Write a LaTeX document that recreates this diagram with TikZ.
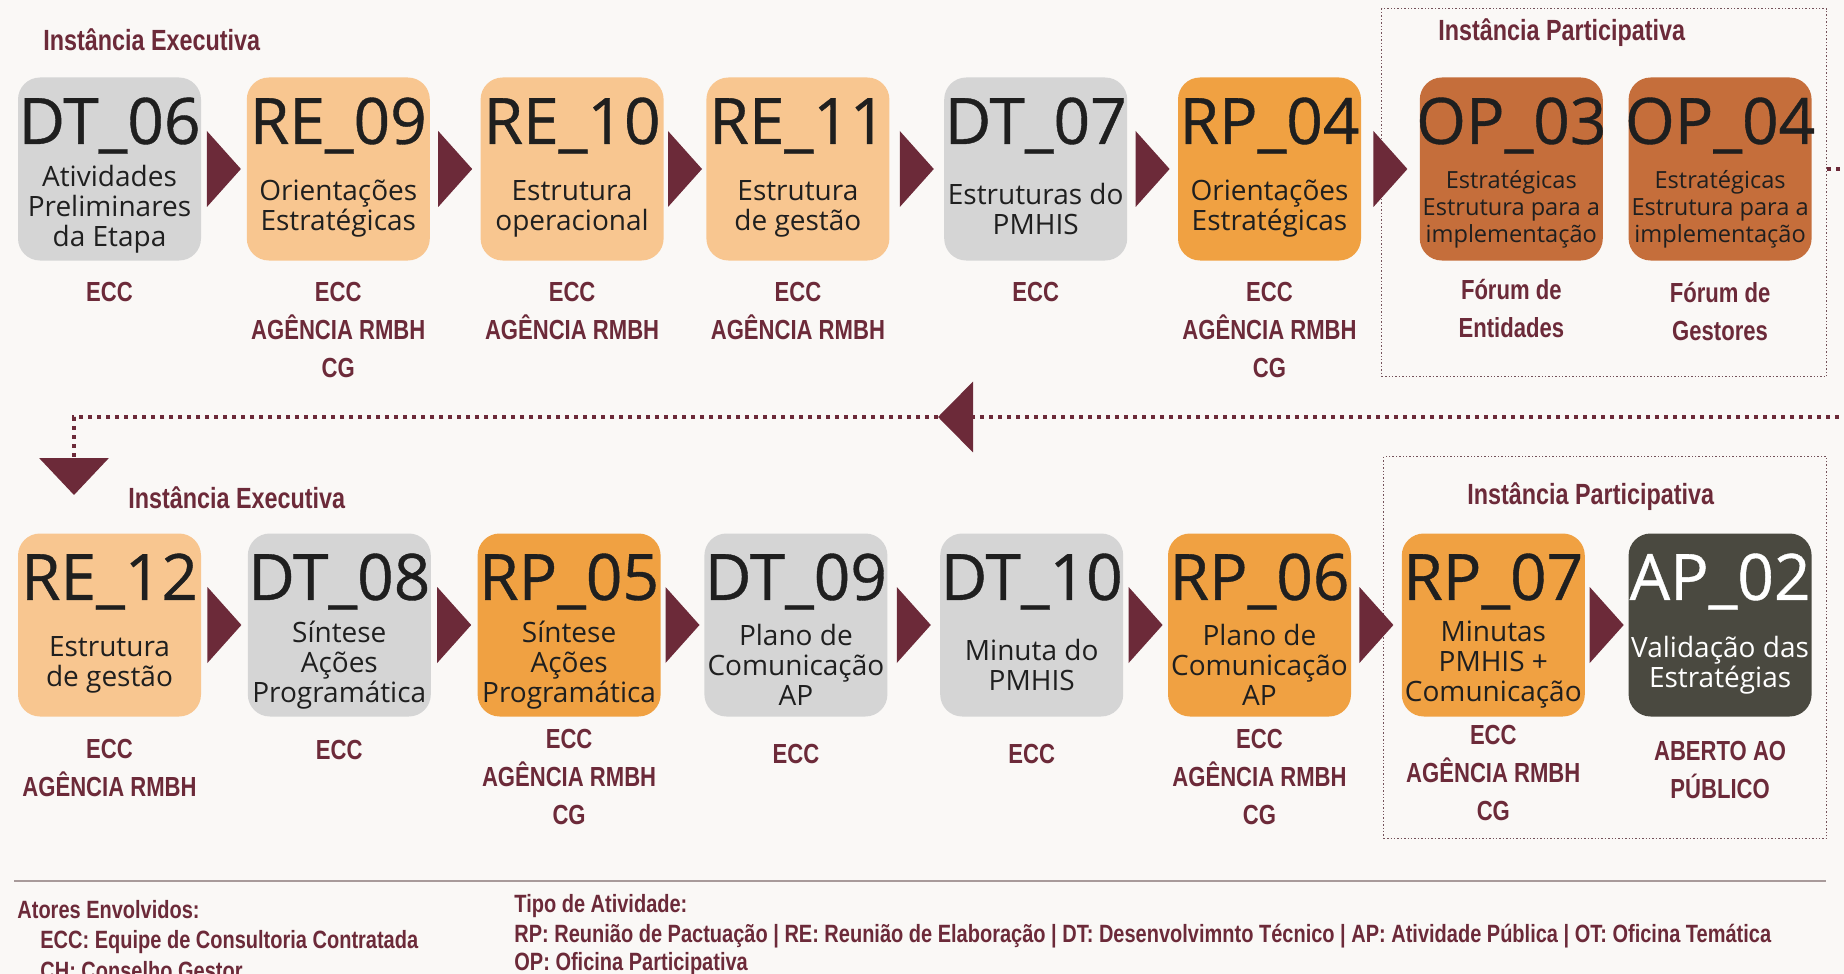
\documentclass[tikz,border=0pt]{standalone}
\usepackage{fontspec}
\usepackage{xcolor}
\usepackage{tikz}
\usetikzlibrary{arrows.meta,positioning,calc}
\newfontfamily\boxfont{Open Sans}
\newfontfamily\boxcodefont[FakeBold=0.6]{Open Sans}
\newfontfamily\capfont[FakeStretch=0.8]{Liberation Sans}
\definecolor{vinho}{HTML}{6C2A39}
\definecolor{paper}{HTML}{FAF8F6}
\definecolor{cinza}{HTML}{D5D5D5}
\definecolor{pessego}{HTML}{F8C690}
\definecolor{laranja}{HTML}{F0A142}
\definecolor{terra}{HTML}{C56E3B}
\definecolor{oliva}{HTML}{4A4940}
\definecolor{moldura}{HTML}{74525A}
\definecolor{regua}{HTML}{A89A9A}
\newcommand{\codesize}{\boxcodefont\fontsize{32}{32}\selectfont}
\newcommand{\subsize}{\boxfont\fontsize{14}{15}\selectfont}
\newcommand{\opsize}{\boxfont\fontsize{11.8}{13.6}\selectfont}
\newcommand{\stepbody}[3][\subsize]{%
  \vbox to 91.5pt{\hsize=91.5pt\parindent=0pt
    \vbox to 40pt{\vss\hbox to\hsize{\hss\codesize\smash{#2}\hss}\kern6.8pt}%
    \nointerlineskip
    \vbox to 51.5pt{\vss\centering#1 #3\par\vss}}}
\newcommand{\stepjoin}[2]{\fill[vinho] ($(#1.east)!0.5!(#2.west)$) ++(-8.5pt,19pt) -- ++(17pt,-19pt) -- ++(-17pt,-19pt) -- cycle;}

\begin{document}
\begin{tikzpicture}[
    stepbox/.style={rounded corners=11pt, inner sep=0pt, minimum width=91.5pt, minimum height=91.5pt, text=black!88},
    greybox/.style={stepbox, fill=cinza},
    peachbox/.style={stepbox, fill=pessego},
    orangebox/.style={stepbox, fill=laranja},
    brownbox/.style={stepbox, fill=terra},
    darkbox/.style={stepbox, fill=oliva, text=white},
    who/.style={font=\capfont\bfseries\fontsize{13.8}{19}\selectfont, text=vinho, align=center, inner sep=0pt},
    instancia/.style={font=\capfont\bfseries\fontsize{14.6}{17}\selectfont, text=vinho, inner sep=0pt, anchor=west},
    legend/.style={font=\capfont\bfseries\fontsize{12.5}{15}\selectfont, text=vinho, inner sep=0pt, anchor=west},
    partframe/.style={draw=moldura, line width=0.7pt, dash pattern=on 0.7pt off 1pt, inner sep=0pt, anchor=north west},
    loopline/.style={draw=vinho, line width=2pt, dash pattern=on 2pt off 2.5pt}
]
\useasboundingbox (0,0) rectangle (922pt,-487pt);
\fill[paper] (0,0) rectangle (922pt,-487pt);
\clip (0,0) rectangle (922pt,-487pt);

\node[partframe, minimum width=222.5pt, minimum height=184pt] (part1) at (690.5pt,-4pt) {};
\node[partframe, minimum width=221.5pt, minimum height=191pt] (part2) at (691.5pt,-228pt) {};
\node[instancia] (exec1) at (21.5pt,-20pt) {Instância Executiva};
\node[instancia] (part1title) at (719pt,-16.5pt) {Instância Participativa};
\node[instancia] (exec2) at (64pt,-249pt) {Instância Executiva};
\node[instancia] (part2title) at (733.5pt,-248.5pt) {Instância Participativa};

\node[greybox] (dt06) at (54.75pt,-84.5pt) {\stepbody{DT\_06}{Atividades\\Preliminares\\da Etapa}};
\node[peachbox, right=22.5pt of dt06] (re09) {\stepbody{RE\_09}{Orientações\\Estratégicas}};
\node[peachbox, right=25pt of re09] (re10) {\stepbody{RE\_10}{Estrutura\\operacional}};
\node[peachbox, right=21pt of re10] (re11) {\stepbody{RE\_11}{Estrutura\\de gestão}};
\node[greybox, right=27pt of re11] (dt07) {\stepbody{DT\_07}{Estruturas do\\PMHIS}};
\node[orangebox, right=25pt of dt07] (rp04) {\stepbody{RP\_04}{Orientações\\Estratégicas}};
\node[brownbox, right=29pt of rp04] (op03) {\stepbody[\opsize]{OP\_03}{Estratégicas\\Estrutura para a\\implementação}};
\node[brownbox, right=12.5pt of op03] (op04) {\stepbody[\opsize]{OP\_04}{Estratégicas\\Estrutura para a\\implementação}};

\node[who, below=10.5pt of dt06] (dt06who) {ECC};
\node[who, below=10.5pt of re09] (re09who) {ECC\\AGÊNCIA RMBH\\CG};
\node[who, below=10.5pt of re10] (re10who) {ECC\\AGÊNCIA RMBH};
\node[who, below=10.5pt of re11] (re11who) {ECC\\AGÊNCIA RMBH};
\node[who, below=10.5pt of dt07] (dt07who) {ECC};
\node[who, below=10.5pt of rp04] (rp04who) {ECC\\AGÊNCIA RMBH\\CG};
\node[who, below=9pt of op03] (op03who) {Fórum de\\Entidades};
\node[who, below=10.5pt of op04] (op04who) {Fórum de\\Gestores};

\node[peachbox] (re12) at (54.75pt,-312.5pt) {\stepbody{RE\_12}{Estrutura\\de gestão}};
\node[greybox, right=23pt of re12] (dt08) {\stepbody{DT\_08}{Síntese\\Ações\\Programática}};
\node[orangebox, right=23pt of dt08] (rp05) {\stepbody{RP\_05}{Síntese\\Ações\\Programática}};
\node[greybox, right=21.5pt of rp05] (dt09) {\stepbody{DT\_09}{Plano de\\Comunicação\\AP}};
\node[greybox, right=26pt of dt09] (dt10) {\stepbody{DT\_10}{Minuta do\\PMHIS}};
\node[orangebox, right=22pt of dt10] (rp06) {\stepbody{RP\_06}{Plano de\\Comunicação\\AP}};
\node[orangebox, right=25pt of rp06] (rp07) {\stepbody{RP\_07}{Minutas\\PMHIS +\\Comunicação}};
\node[darkbox, right=21.5pt of rp07] (ap02) {\stepbody{AP\_02}{Validação das\\Estratégias}};

\node[who, below=11pt of re12] (re12who) {ECC\\AGÊNCIA RMBH};
\node[who, below=11.5pt of dt08] (dt08who) {ECC};
\node[who, below=6pt of rp05] (rp05who) {ECC\\AGÊNCIA RMBH\\CG};
\node[who, below=13.5pt of dt09] (dt09who) {ECC};
\node[who, below=13.5pt of dt10] (dt10who) {ECC};
\node[who, below=6pt of rp06] (rp06who) {ECC\\AGÊNCIA RMBH\\CG};
\node[who, below=4pt of rp07] (rp07who) {ECC\\AGÊNCIA RMBH\\CG};
\node[who, below=12pt of ap02] (ap02who) {ABERTO AO\\PÚBLICO};

\stepjoin{dt06}{re09}
\stepjoin{re09}{re10}
\stepjoin{re10}{re11}
\stepjoin{re11}{dt07}
\stepjoin{dt07}{rp04}
\stepjoin{rp04}{op03}
\stepjoin{re12}{dt08}
\stepjoin{dt08}{rp05}
\stepjoin{rp05}{dt09}
\stepjoin{dt09}{dt10}
\stepjoin{dt10}{rp06}
\stepjoin{rp06}{rp07}
\stepjoin{rp07}{ap02}

\coordinate (turn) at (940pt,-208.5pt);
\coordinate (midtip) at (469pt,-208.5pt);
\coordinate (droptip) at (37pt,-247.5pt);
\draw[loopline, -{Triangle[length=17.5pt,width=35pt]}] (part1.east |- op04) -| (turn) -- (midtip);
\draw[loopline, -{Triangle[length=18.5pt,width=34.5pt]}] (midtip) -| (droptip);

\draw[regua, line width=1pt] (7pt,-440.5pt) -- (913pt,-440.5pt);
\node[legend] (atores) at (8.5pt,-455pt) {Atores Envolvidos:};
\node[legend] (ecc) at (20pt,-471pt) {ECC: Equipe de Consultoria Contratada};
\node[legend] (ch) at (20pt,-485.5pt) {CH: Conselho Gestor};
\node[legend] (tipo) at (257pt,-453pt) {Tipo de Atividade:};
\node[legend] (siglas) at (257pt,-468pt) {RP: Reunião de Pactuação | RE: Reunião de Elaboração | DT: Desenvolvimnto Técnico | AP: Atividade Pública | OT: Oficina Temática};
\node[legend] (oficina) at (257pt,-482pt) {OP: Oficina Participativa};
\end{tikzpicture}
\end{document}
